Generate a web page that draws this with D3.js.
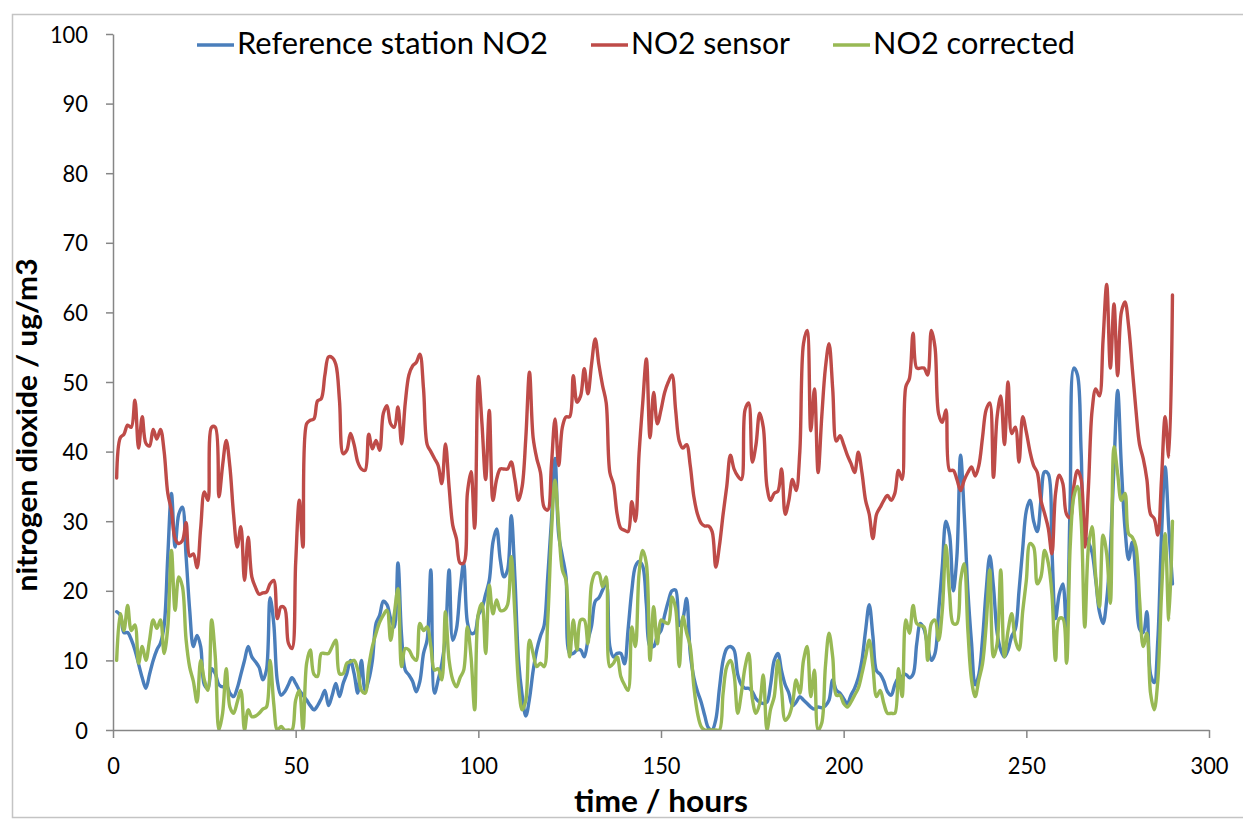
<!DOCTYPE html>
<html>
<head>
<meta charset="utf-8">
<script src="https://cdn.jsdelivr.net/npm/d3@7"></script>
<style>
  html, body { margin: 0; padding: 0; background: #ffffff; }
  svg { display: block; }
  text { font-family: Lato, "Open Sans", "Liberation Sans", sans-serif; fill: #000; }
</style>
</head>
<body>
<svg id="chart" width="1243" height="821"></svg>
<script>
// ---------- DATA ----------
const hours = d3.range(1, 291); // hourly time axis 1..290

const referenceNO2 = [
17,16.5,14,14,13,11.5,9.5,7.5,6,8,
10,11.5,12.5,15,25,34,26.3,31,32,25,
17.2,12,13.6,12,6.5,6,8.8,8.1,6.5,6.2,
6.5,5.3,4.8,6,8,10,12,10.5,9.8,9,
7.2,8.6,19,15.3,7,5,5.5,6.5,7.5,6.7,
5.7,5,4.3,3.5,2.9,3.5,4.5,5.7,3.5,5,
6.7,4.8,6.7,8.1,10,8.1,5.3,10,5.7,7.2,
10,15.3,16.5,18.5,18,16,14.8,24,13.5,8.6,
7.9,7,5.5,7,11,13,23,5.3,7.2,9.5,
13.5,23,12.9,14.5,20,24,15.5,13.9,14,16.5,
17.5,19.5,21.5,27,28.9,24.5,22,23,30.8,22,
10,5,2,4.5,8.5,11.5,13.5,15,22,30,
39,28,25,22,11,11,11.5,11.5,10.5,12.9,
15,18.5,19,20.1,21,12,10.5,11,11,9.5,
14.5,20,23.5,24.2,23.5,18,12,12,13.5,14.3,
16.5,18.5,20,20.1,15,16,18.9,11,7.5,5.5,
4,2,0.3,0,1.5,6,10,11.7,12,11.5,
8,6.5,6,6,5.5,4.5,4,3.8,4,6.5,
10,11,8.5,6.5,5.3,3.5,4,4.8,4.3,3.8,
3.3,3,3.3,3.2,3.5,4.3,7.2,5.7,5.3,4.5,
3.8,5,6,7.5,10,14.3,18,13.5,8.5,8,
7,5.5,5,6.5,7.5,7.7,8,7.5,8,12.4,
15.3,14.5,12,10,11,17,23.5,30,28,20,
25,39.5,31,20,12.5,6.5,8,13,20,25,
20.6,14,11.5,10.5,11.5,13.5,14.5,20,26,31.5,
33,30,28.5,33,37.1,36.8,26,16,19.5,21,
14,33,52,51,40,28,27,25.5,21.5,17,
15.3,18.7,26,38,48.8,38,29,24.5,27,22,
14.5,14,17,8,6.8,13,28,37.8,29,21
];

const sensorNO2 = [
36.2,42,42.5,43.8,43.5,47.4,40.5,45,41.2,40.8,
43.2,41.8,43.2,40,34,31.5,27.5,26.8,27.2,29.8,
25,25.3,23.3,29,34.2,33,43.5,43.5,33.5,38,
41.6,37.8,31,26.3,29.2,21.5,27.7,22,20.5,19.5,
19.7,19.8,21,21.5,16,17.7,17.5,12.5,11.7,24,
33,26.3,44,44.5,44.7,47.3,47.6,51,53.6,53.5,
52.5,47.3,39.7,40.2,42.6,41,38.5,37.5,37.3,42.5,
40.4,41.6,40.2,45.5,46.6,44,43.5,46.4,41.1,47,
51,52.3,52.8,54,49,41,40,39,38,35.4,
41.1,34.9,29.4,27.5,24,24,34,37.1,29,50.8,
44,36,45.9,33,36,37.5,37.5,37.5,38.5,36,
33,35,42,51.4,42,39,37,32,31.6,38,
44.7,38,43.5,45,45,50.9,47.1,48,51.9,48.3,
52.6,56.2,52.5,49.5,47,37,35.3,31,29,28.7,
28.5,32.8,30,39.7,47,53.3,42,48.5,44,46,
48.5,50,51,46,41.5,40.5,41,38,33.5,31,
29.7,29.3,29.3,28.5,23.4,26.5,31,35,39.5,37.5,
36.5,36,46,47,38.5,41,45.5,43.5,35,33,
34,34.3,37.5,31,33,36,34.4,40,55.5,57.4,
43,49,37,45,52,55.5,49,41.5,42.3,41,
39.5,38.3,37,39.9,37,33,31,27.5,31,32,
33,33.7,33,34,37.3,36,49.3,50.5,57,52,
52,52,51,57.4,55,45.4,44.2,46,37.3,37.3,
36,34.4,35.9,37,37.8,36.5,38,42,46,47,
36.3,45,48,41,50,42.6,43.5,38.5,45,42.8,
40,38,37,33,31.1,29,25.3,34,36.6,35.4,
31,30.5,35,37.3,36,26.3,34.9,45.9,49,48,
56,64,52,61.2,50.9,60,61.5,58,52,46,
41,39,36,31,30.4,28,36,45,39.2,62.5
];

const correctedNO2 = [
10,16.7,14.3,17.9,14.3,15.1,9.6,12,10,12.9,
15.8,14.6,15.8,11,14.8,25.8,17.2,22,20.6,13,
9,7,4,10,7.2,5.7,15.8,10.5,0,2.4,
8.8,3.3,2.4,4,5.7,0,2.9,1.9,2,2.4,
3,3.3,10,3.8,0,0.5,0,0,0,4.3,
5.7,0,9.6,11.5,8,7.7,11,11,11,12,
12.9,8.1,8.1,9.6,9.8,10,8.6,5.7,5.3,9.1,
12,13.9,15.5,16.5,17.2,12.9,16.7,20.3,9.1,11.7,
11.5,10.5,10,15.3,14.3,14.8,12,8.6,8.8,7.2,
17,10,7.2,6.2,7.5,8.6,14.8,10.5,2.9,16.7,
18.2,11,20.8,16.7,18.7,17.2,17.2,18,24.9,16.7,
6.7,2.9,4.3,12.9,11,9.1,9.6,9.1,15.8,28.2,
35.9,29.2,23,21.5,10.5,15.8,11.5,15.8,15.8,12.4,
21,22.5,22.5,20.6,22,9.1,9.6,10.5,7.7,6.5,
5.7,14.8,12,22.5,25.8,23.9,10,17.7,12.4,15.8,
15.5,15.3,19.1,17.5,9.1,16.3,14,12,6.2,2.4,
0.5,0,0,0,0,0,5.3,9.1,10,8,
2.4,5.3,9,11,4.5,2.4,3.8,7.9,0,3,
4.8,10,5.7,1.4,2,3.8,7.2,5.3,10,12,
4.8,8.6,0,1,9.1,13.9,10.5,5,5,3.8,
3.3,4,5,6,8.1,10.5,12.9,9.1,4.8,5.7,
3.8,2.4,2.4,2.4,8.8,4.8,15.8,13.9,17.9,15.3,
15,14.8,10,15.3,15.8,12.9,17.2,26.5,19.6,15.3,
15.3,21.5,23.9,14.3,7.2,4.8,7.2,9.5,15,23,
10.5,12.4,23,10.5,14.3,16.7,12.9,11.5,17,21.5,
26.8,26.3,21,22,25.8,24,19.6,10,16,16,
9.6,26.3,33.5,35,30.1,14.8,26.3,29.2,22,17.7,
28,25.3,18.2,40.7,36.8,33,34,28.2,27.7,26.3,
18.7,12,13.9,5.3,2.9,7.2,19.6,28.2,15.8,30
];

const seriesNames = ["Reference station NO2", "NO2 sensor", "NO2 corrected"];
const seriesColors = ["#4a7ebb", "#be4b48", "#98b954"];
const xTicks = [0, 50, 100, 150, 200, 250, 300];
const yTicks = [0, 10, 20, 30, 40, 50, 60, 70, 80, 90, 100];
const xTitle = "time / hours";
const yTitle = "nitrogen dioxide / ug/m3";

// ---------- LAYOUT ----------
const W = 1243, H = 821;
const plot = { left: 113, right: 1209, top: 34, bottom: 730 };

const svg = d3.select("#chart");
svg.append("rect").attr("width", W).attr("height", H).attr("fill", "#fff");

// chart-area border
svg.append("rect")
  .attr("x", 12.5).attr("y", 14.5)
  .attr("width", W).attr("height", 803)
  .attr("fill", "none").attr("stroke", "#c4c4c4").attr("stroke-width", 1.5);

const x = d3.scaleLinear().domain([0, 300]).range([plot.left, plot.right]);
const y = d3.scaleLinear().domain([0, 100]).range([plot.bottom, plot.top]);

// clip
svg.append("clipPath").attr("id", "plotclip")
  .append("rect")
  .attr("x", plot.left).attr("y", plot.top)
  .attr("width", plot.right - plot.left).attr("height", plot.bottom - plot.top);

// lines
const series = [referenceNO2, sensorNO2, correctedNO2];
const line = d3.line()
  .x((d, i) => x(hours[i]))
  .y(d => y(d))
  .curve(d3.curveCatmullRom.alpha(0.5));

const gLines = svg.append("g").attr("clip-path", "url(#plotclip)");
series.forEach((s, k) => {
  gLines.append("path")
    .datum(s)
    .attr("d", line)
    .attr("fill", "none")
    .attr("stroke", seriesColors[k])
    .attr("stroke-width", 3.4)
    .attr("stroke-linejoin", "round")
    .attr("stroke-linecap", "round");
});

// axes
const axisColor = "#868686";
const yAxis = d3.axisLeft(y).tickValues(yTicks).tickSize(7).tickSizeOuter(0).tickPadding(18);
const gy = svg.append("g").attr("transform", `translate(${plot.left},0)`).call(yAxis);
const xAxis = d3.axisBottom(x).tickValues(xTicks).tickSize(8).tickSizeOuter(0).tickPadding(19);
const gx = svg.append("g").attr("transform", `translate(0,${plot.bottom})`).call(xAxis);

[gx, gy].forEach(g => {
  g.select(".domain").attr("stroke", axisColor).attr("stroke-width", 1.5);
  g.selectAll(".tick line").attr("stroke", axisColor).attr("stroke-width", 1.5);
  g.selectAll(".tick text")
    .attr("font-family", "Lato, 'Open Sans', sans-serif")
    .attr("font-size", 24)
    .attr("fill", "#000")
    .attr("lengthAdjust", "spacingAndGlyphs")
    .attr("textLength", function () { return this.textContent.length * 12.7; });
});
gy.selectAll(".tick text").attr("dy", "0.34em");

// legend
const legendItems = [
  { lineX: 197, textX: 237, len: 311 },
  { lineX: 591, textX: 631, len: 159 },
  { lineX: 833, textX: 873, len: 202 }
];
const gLeg = svg.append("g");
seriesNames.forEach((name, k) => {
  const it = legendItems[k];
  gLeg.append("line")
    .attr("x1", it.lineX).attr("x2", it.lineX + 37)
    .attr("y1", 45).attr("y2", 45)
    .attr("stroke", seriesColors[k]).attr("stroke-width", 3.4);
  gLeg.append("text")
    .attr("x", it.textX).attr("y", 53.5)
    .attr("font-size", 30)
    .attr("textLength", it.len)
    .attr("lengthAdjust", "spacingAndGlyphs")
    .text(name);
});

// axis titles
svg.append("text")
  .attr("x", (plot.left + plot.right) / 2).attr("y", 812)
  .attr("text-anchor", "middle")
  .attr("font-size", 31).attr("font-weight", "bold")
  .attr("textLength", 174).attr("lengthAdjust", "spacingAndGlyphs")
  .text(xTitle);

svg.append("text")
  .attr("transform", "translate(37,425) rotate(-90)")
  .attr("text-anchor", "middle")
  .attr("font-size", 28).attr("font-weight", "bold")
  .attr("textLength", 333).attr("lengthAdjust", "spacingAndGlyphs")
  .text(yTitle);
</script>
</body>
</html>
